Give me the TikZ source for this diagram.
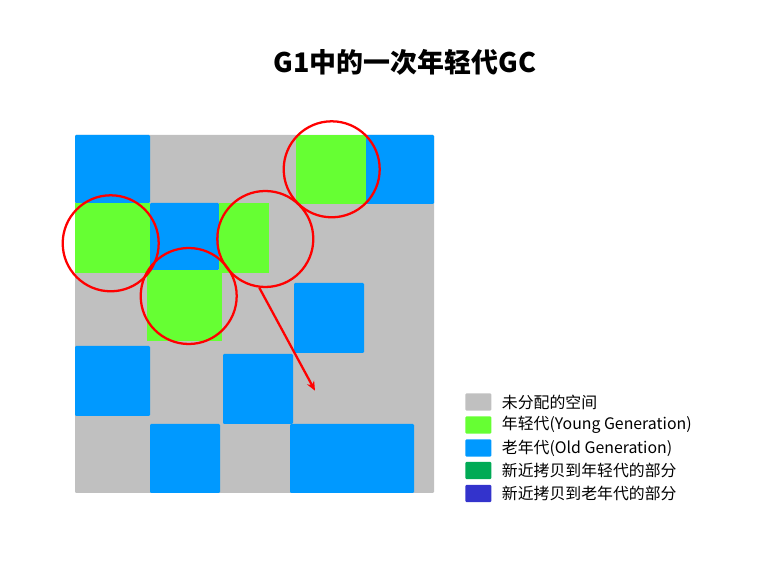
\documentclass[tikz,border=0pt]{standalone}
\usepackage{fontspec}
\setmainfont{Noto Sans CJK SC}
\usetikzlibrary{arrows.meta}
\definecolor{gfree}{HTML}{C0C0C0}
\definecolor{gyoung}{HTML}{66FF33}
\definecolor{gold}{HTML}{0099FF}
\definecolor{gcopyy}{HTML}{00AA55}
\definecolor{gcopyo}{HTML}{3333CC}
\definecolor{ring}{HTML}{FF0000}
\tikzset{
  region/.style={inner sep=0pt, outer sep=0pt, rounded corners=0.8pt},
  hl/.style={draw=ring, line width=1.7pt, circle, inner sep=0pt},
  swatch/.style={inner sep=0pt, minimum width=19.5pt, minimum height=12.8pt, rounded corners=0.8pt},
  legtext/.style={anchor=west, inner sep=0pt, font=\fontsize{11.9pt}{13pt}\selectfont},
}
\begin{document}
\begin{tikzpicture}[x=0.75pt,y=-0.75pt]
\useasboundingbox (0,0) rectangle (758,580);
% title
\node[font=\fontsize{20.2pt}{22pt}\selectfont\bfseries] (title) at (405,62) {G1中的一次年轻代GC};
% heap background
\fill[gfree, rounded corners=0.8pt] (75,135) rectangle (434,493);
% old regions
\fill[gold, region] (75,135) rectangle (150,203);
\fill[gold, region] (366,135) rectangle (434,204);
\fill[gold, region] (150,203) rectangle (219,270);
\fill[gold, region] (294,283) rectangle (364,353);
\fill[gold, region] (75,346) rectangle (150,416);
\fill[gold, region] (223,354) rectangle (293,424);
\fill[gold, region] (150,424) rectangle (220,493);
\fill[gold, region] (290,424) rectangle (414,493);
% young regions
\fill[gyoung] (296,135) rectangle (366,204);
\fill[gyoung] (75,203) rectangle (150,273);
\fill[gyoung] (219,203) rectangle (269,273);
\fill[gyoung] (147,270) rectangle (222,341);
% highlight circles
\node[hl, minimum size=72pt] (c1) at (331.7,169.3) {};
\node[hl, minimum size=72pt] (c2) at (110.7,243.3) {};
\node[hl, minimum size=72pt] (c3) at (188.7,296) {};
\node[hl, minimum size=72pt] (c4) at (265.3,239) {};
\coordinate (tip) at (315,390.7);
\draw[ring, line width=1.7pt, -{Stealth[length=7pt,width=6pt]}] (c4.-97) -- (tip);
% legend
\node[swatch, fill=gfree]  (s1) at (478.3,402) {};
\node[swatch, fill=gyoung] (s2) at (478.3,425) {};
\node[swatch, fill=gold]   (s3) at (478.3,448) {};
\node[swatch, fill=gcopyy] (s4) at (478.3,470.5) {};
\node[swatch, fill=gcopyo] (s5) at (478.3,493.5) {};
\node[legtext] (t1) at (501.7,402) {未分配的空间};
\node[legtext] (t2) at (501.7,425) {年轻代(Young Generation)};
\node[legtext] (t3) at (501.7,448) {老年代(Old Generation)};
\node[legtext] (t4) at (501.7,470.5) {新近拷贝到年轻代的部分};
\node[legtext] (t5) at (501.7,493.5) {新近拷贝到老年代的部分};
\end{tikzpicture}
\end{document}
